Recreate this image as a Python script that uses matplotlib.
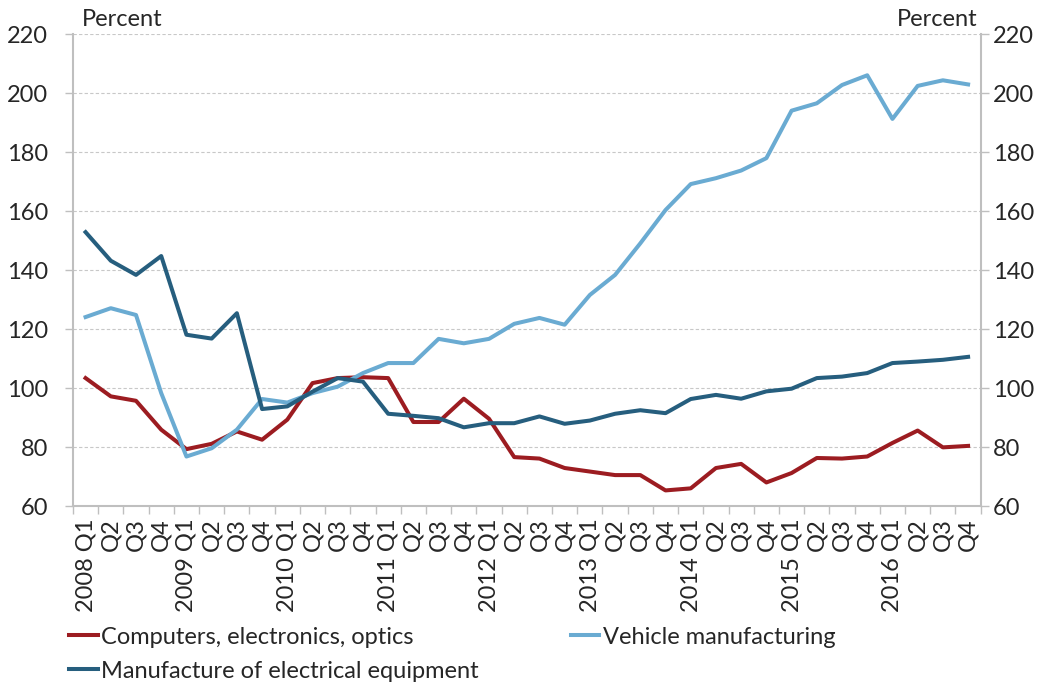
import numpy as np
import matplotlib
matplotlib.use('Agg')
import matplotlib.pyplot as plt

plt.rcParams['font.family'] = ['Lato', 'DejaVu Sans']

years = ['2008', '2009', '2010', '2011', '2012', '2013', '2014', '2015', '2016']
quarters = ['Q1', 'Q2', 'Q3', 'Q4']

computers = [103.4, 97.2, 95.7, 85.9, 79.3, 81.1, 85.3, 82.5,
             89.3, 101.7, 103.4, 103.7, 103.4, 88.5, 88.5, 96.4,
             89.6, 76.6, 76.1, 72.9, 71.7, 70.5, 70.5, 65.3,
             66.0, 72.9, 74.3, 68.0, 71.2, 76.3, 76.1, 76.8,
             81.4, 85.6, 79.9, 80.4]
vehicles = [124.1, 127.1, 124.8, 98.3, 76.8, 79.6, 85.9, 96.3,
            95.1, 98.3, 100.5, 105.1, 108.5, 108.5, 116.7, 115.2,
            116.7, 121.8, 123.8, 121.5, 131.6, 138.4, 149.1, 160.4,
            169.2, 171.2, 173.8, 178.0, 194.1, 196.6, 202.8, 206.1,
            191.3, 202.5, 204.4, 203.0]
electrical = [152.9, 143.2, 138.4, 144.8, 118.1, 116.8, 125.4, 92.9,
              93.8, 98.8, 103.4, 102.2, 91.3, 90.6, 89.8, 86.7,
              88.1, 88.1, 90.4, 87.9, 89.0, 91.3, 92.5, 91.5,
              96.3, 97.7, 96.4, 98.9, 99.8, 103.4, 103.9, 105.1,
              108.5, 109.0, 109.6, 110.6]

labels = []
for y in years:
    for q in quarters:
        labels.append(y + ' ' + q if q == 'Q1' else q)

red = '#9c1c21'
light = '#6aabd2'
dark = '#265e7e'
grey = '#bfbfbf'
txt = '#262626'

fig = plt.figure(figsize=(10.5, 6.82), dpi=100)
ax = fig.add_axes([0.0695, 0.258, 0.8645, 0.6917])
x = np.arange(len(labels))

l1, = ax.plot(x, computers, color=red, lw=2.9, label='Computers, electronics, optics')
l2, = ax.plot(x, vehicles, color=light, lw=2.9, label='Vehicle manufacturing')
l3, = ax.plot(x, electrical, color=dark, lw=2.9, label='Manufacture of electrical equipment')

ax.set_xlim(-0.5, len(labels) - 0.5)
ax.set_ylim(60, 220)
ax.set_yticks(range(60, 221, 20))
ax.grid(axis='y', color='#c8c8c8', linestyle=(0, (3, 2)), lw=0.8)
ax.set_axisbelow(True)

ax.set_xticks(x)
ax.set_xticklabels(labels, rotation=90, fontsize=17, color=txt)
ax.set_xticks(np.arange(-0.5, len(labels), 1), minor=True)
ax.tick_params(axis='x', which='major', length=0, pad=9)
ax.tick_params(axis='x', which='minor', length=6, color=grey, width=1)
ax.tick_params(axis='y', length=6, color=grey, width=1, labelsize=17, labelcolor=txt, pad=12)

ax.spines['top'].set_visible(False)
for s in ['left', 'right', 'bottom']:
    ax.spines[s].set_color(grey)
    ax.spines[s].set_linewidth(1.5)

ax2 = ax.twinx()
ax2.set_ylim(60, 220)
ax2.set_yticks(range(60, 221, 20))
ax2.tick_params(axis='y', length=6, color=grey, width=1, labelsize=17, labelcolor=txt, pad=3)
for s in ['top', 'left', 'bottom', 'right']:
    ax2.spines[s].set_visible(False)

ax.text(0.01, 1.01, 'Percent', transform=ax.transAxes, fontsize=17, color=txt, ha='left', va='bottom')
ax.text(0.996, 1.01, 'Percent', transform=ax.transAxes, fontsize=17, color=txt, ha='right', va='bottom')

fig.legend(handles=[l1, l3, l2], loc='upper left', bbox_to_anchor=(0.066, 0.081),
           ncol=2, frameon=False, fontsize=17, handlelength=1.2, handletextpad=0.15,
           columnspacing=3.9, labelspacing=0.55, borderaxespad=0, borderpad=0,
           labelcolor=txt)

fig.savefig('out.png', dpi=100)
